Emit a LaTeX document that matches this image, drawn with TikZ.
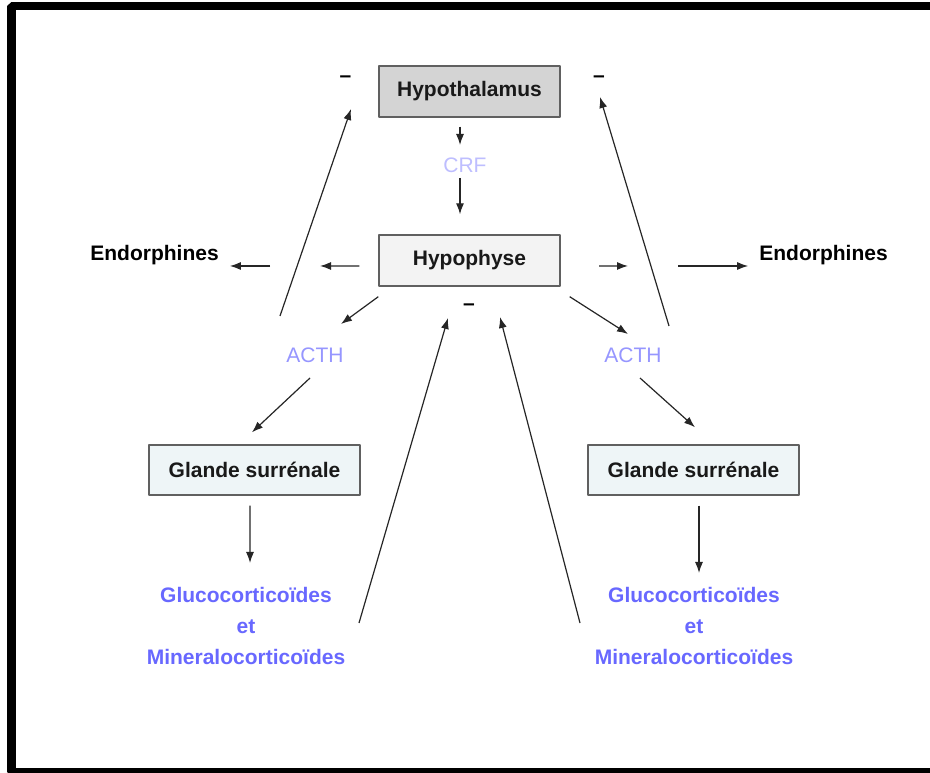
\documentclass[tikz,border=0pt]{standalone}
\usepackage{fontspec}
\setmainfont{Liberation Sans}
\usetikzlibrary{arrows.meta}
\definecolor{boxline}{RGB}{96,96,96}
\definecolor{hypothalfill}{RGB}{212,212,212}
\definecolor{hypophfill}{RGB}{243,243,243}
\definecolor{glandefill}{RGB}{238,245,247}
\definecolor{hormblue}{RGB}{104,104,255}
\definecolor{acthblue}{RGB}{150,150,255}
\definecolor{crfblue}{RGB}{190,190,255}
\tikzset{
  organ/.style={draw=boxline,line width=1.4bp,minimum width=181bp,minimum height=51bp,
    font=\fontsize{21bp}{25bp}\selectfont\bfseries,text=black!90},
  label/.style={inner sep=0pt,font=\fontsize{21bp}{31bp}\selectfont\bfseries,align=center},
  signal/.style={inner sep=0pt,font=\fontsize{21bp}{25bp}\selectfont},
  arr/.style={draw=black!85,line width=1.2bp,->},
}
\begin{document}
\begin{tikzpicture}[>={Latex[length=11bp,width=8bp]},line join=bevel]
\useasboundingbox (0bp,0bp) rectangle (930bp,773bp);
\fill[white] (0bp,0bp) rectangle (930bp,773bp);
\draw[line width=8.5bp] (945bp,767bp) -- (11.5bp,767bp) -- (11.5bp,1bp) -- (945bp,1bp);
%%
\node (hypothal) at (469.5bp,681.5bp) [organ,fill=hypothalfill] {Hypothalamus};
  \node (crf) at (465.0bp,608.0bp) [signal,text=crfblue] {CRF};
  \node (hypoph) at (469.5bp,512.5bp) [organ,fill=hypophfill] {Hypophyse};
  \node (endoL) at (154.5bp,518.0bp) [label] {Endorphines};
  \node (endoR) at (823.5bp,518.0bp) [label] {Endorphines};
  \coordinate (crossL) at (295.0bp,507.0bp);
  \coordinate (crossR) at (653.0bp,507.0bp);
  \node (acthL) at (315.0bp,418.0bp) [signal,text=acthblue] {ACTH};
  \node (acthR) at (633.0bp,418.0bp) [signal,text=acthblue] {ACTH};
  \node (glandeL) at (254.5bp,303.0bp) [organ,fill=glandefill,minimum width=211bp,minimum height=50bp] {Glande surrénale};
  \node (glandeR) at (693.5bp,303.0bp) [organ,fill=glandefill,minimum width=211bp,minimum height=50bp] {Glande surrénale};
  \node (glucoL) at (246.0bp,147.0bp) [label,text=hormblue] {Glucocorticoïdes\\et\\Mineralocorticoïdes};
  \node (glucoR) at (694.0bp,147.0bp) [label,text=hormblue] {Glucocorticoïdes\\et\\Mineralocorticoïdes};
  \node (minusL) at (345.5bp,694.0bp) [label] {–};
  \node (minusR) at (599.0bp,694.0bp) [label] {–};
  \node (minusM) at (469.0bp,466.0bp) [label] {–};
  \draw [arr] ([xshift=-9.5bp,yshift=-9bp]hypothal.south) -- ([shift={(-5bp,20bp)}]crf.center);
  \draw [arr] ([shift={(-5bp,-13bp)}]crf.center) -- ([shift={(-9.5bp,20bp)}]hypoph.north);
  \draw [arr] ([shift={(-19bp,-5.5bp)}]hypoph.west) -- ([xshift=25bp]crossL);
  \draw [arr] ([xshift=-25bp]crossL) -- ([shift={(11bp,-11bp)}]endoL.east);
  \draw [arr] ([shift={(38.5bp,-5.5bp)}]hypoph.east) -- ([xshift=-25bp]crossR);
  \draw [arr] ([xshift=25bp]crossR) -- ([shift={(-11bp,-11bp)}]endoR.west);
  \draw [arr] ([yshift=-10bp]hypoph.south west) -- ([shift={(26bp,31bp)}]acthL.center);
  \draw [arr] ([shift={(9bp,-10bp)}]hypoph.south east) -- ([shift={(-5bp,21bp)}]acthR.center);
  \draw [arr] ([shift={(-5bp,-23bp)}]acthL.center) -- ([shift={(-2.5bp,12bp)}]glandeL.north);
  \draw [arr] ([shift={(7bp,-23bp)}]acthR.center) -- ([shift={(1.5bp,17bp)}]glandeR.north);
  \draw [arr] ([shift={(-4.5bp,-10bp)}]glandeL.south) -- ([shift={(4bp,63bp)}]glucoL.center);
  \draw [arr] ([shift={(5.5bp,-10bp)}]glandeR.south) -- ([shift={(5bp,53bp)}]glucoR.center);
  \draw [arr] ([shift={(-35bp,39bp)}]acthL.center) -- ([shift={(5.5bp,-30bp)}]minusL.center);
  \draw [arr] ([shift={(36bp,29bp)}]acthR.center) -- ([shift={(1bp,-18bp)}]minusR.center);
  \draw [arr] ([shift={(113bp,3bp)}]glucoL.center) -- ([shift={(-21bp,-11bp)}]minusM.center);
  \draw [arr] ([shift={(-114bp,3bp)}]glucoR.center) -- ([shift={(31bp,-10bp)}]minusM.center);
%
\end{tikzpicture}
\end{document}
